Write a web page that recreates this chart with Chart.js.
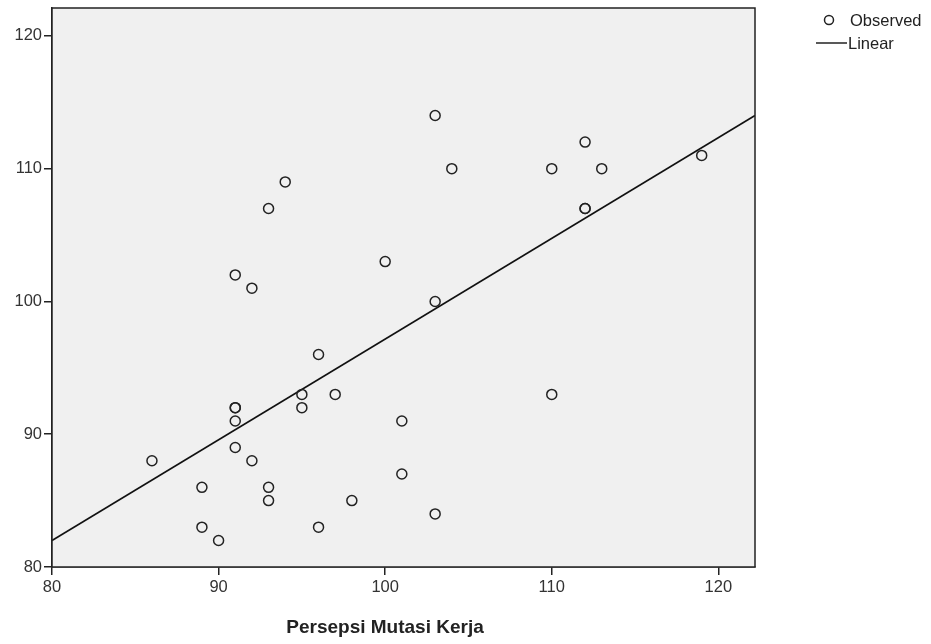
<!DOCTYPE html>
<html>
<head>
<meta charset="utf-8">
<script src="https://cdn.jsdelivr.net/npm/chart.js@4"></script>
<style>
    html, body { margin: 0; padding: 0; background: #fff; }
    #wrap { position: relative; width: 931px; height: 644px; }
</style>
</head>
<body>
<div id="wrap"><canvas id="chart" width="931" height="644"></canvas></div>
<script>
// Observed values (Persepsi Mutasi Kerja vs. dependent)
const observedX = [86, 89, 89, 90, 91, 91, 91, 91, 91, 92, 92, 93, 93, 93, 94, 95, 95, 96, 96, 97,
    98, 100, 101, 101, 103, 103, 103, 104, 110, 110, 112, 112, 112, 113, 119];
const observedY = [88, 86, 83, 82, 102, 92, 92, 91, 89, 101, 88, 107, 86, 85, 109, 93, 92, 96, 83, 93,
    85, 103, 91, 87, 114, 100, 84, 110, 110, 93, 112, 107, 107, 110, 111];

// Linear fit endpoints
const fitX = [80, 122.2];
const fitY = [82.0, 114.0];

const xTicks = [80, 90, 100, 110, 120];
const yTicks = [80, 90, 100, 110, 120];

const plotBg = '#f0f0f0';
const fontFamily = '"Liberation Sans", Arial, sans-serif';

// Plot panel background + frame + axis title + legend
const panelPlugin = {
    id: 'panel',
    beforeDatasetsDraw(chart) {
        const { ctx, chartArea: a } = chart;
        ctx.save();
        ctx.fillStyle = plotBg;
        ctx.fillRect(a.left, a.top, a.right - a.left, a.bottom - a.top);
        ctx.restore();
    },
    afterDraw(chart) {
        const { ctx, chartArea: a } = chart;
        ctx.save();
        ctx.strokeStyle = '#222';
        ctx.lineWidth = 1.5;
        ctx.strokeRect(a.left, a.top, a.right - a.left, a.bottom - a.top);

        // x axis title
        ctx.fillStyle = '#222';
        ctx.font = 'bold 19px ' + fontFamily;
        ctx.textAlign = 'center';
        ctx.textBaseline = 'middle';
        ctx.fillText('Persepsi Mutasi Kerja', 385, 628);

        // legend
        ctx.font = '16.5px ' + fontFamily;
        ctx.textAlign = 'left';
        ctx.lineWidth = 1.5;
        ctx.beginPath();
        ctx.arc(829, 20, 4.5, 0, Math.PI * 2);
        ctx.stroke();
        ctx.fillText('Observed', 850, 21);
        ctx.beginPath();
        ctx.moveTo(816, 43);
        ctx.lineTo(847, 43);
        ctx.stroke();
        ctx.fillText('Linear', 848, 44);
        ctx.restore();
    }
};

const tickFont = { family: fontFamily, size: 16.5 };

new Chart(document.getElementById('chart').getContext('2d'), {
    type: 'scatter',
    data: {
        datasets: [
            {
                label: 'Observed',
                data: observedX.map((x, i) => ({ x: x, y: observedY[i] })),
                pointStyle: 'circle',
                pointRadius: 5,
                backgroundColor: 'rgba(0,0,0,0)',
                borderColor: '#222',
                borderWidth: 1.5,
                order: 1
            },
            {
                label: 'Linear',
                type: 'line',
                data: fitX.map((x, i) => ({ x: x, y: fitY[i] })),
                borderColor: '#111',
                borderWidth: 1.6,
                pointRadius: 0,
                fill: false,
                order: 2
            }
        ]
    },
    options: {
        responsive: false,
        animation: false,
        layout: { padding: { top: 8, right: 176, left: 0, bottom: 0 } },
        plugins: {
            legend: { display: false },
            tooltip: { enabled: false }
        },
        scales: {
            x: {
                type: 'linear',
                min: 80,
                max: 122.2,
                afterFit: s => { s.height = 77; s.paddingLeft = 0; s.paddingRight = 0; },
                afterBuildTicks: s => { s.ticks = xTicks.map(v => ({ value: v })); },
                grid: { drawOnChartArea: false, drawTicks: true, tickLength: 8, color: '#222', lineWidth: 1.5 },
                border: { display: true, color: '#222', width: 1.5 },
                ticks: { font: tickFont, color: '#333', padding: 3, maxRotation: 0 }
            },
            y: {
                type: 'linear',
                min: 80,
                max: 122.1,
                afterFit: s => { s.width = 52; s.paddingTop = 0; s.paddingBottom = 0; },
                afterBuildTicks: s => { s.ticks = yTicks.map(v => ({ value: v })); },
                grid: { drawOnChartArea: false, drawTicks: true, tickLength: 8, color: '#222', lineWidth: 1.5 },
                border: { display: true, color: '#222', width: 1.5 },
                ticks: { font: tickFont, color: '#333', padding: 2 }
            }
        }
    },
    plugins: [panelPlugin]
});
</script>
</body>
</html>
